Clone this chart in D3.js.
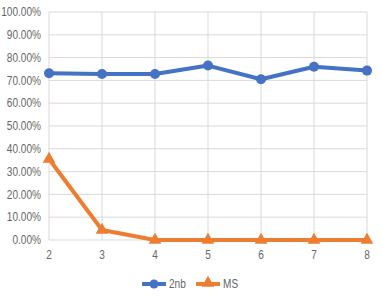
<!DOCTYPE html>
<html><head><meta charset="utf-8">
<script src="https://cdn.jsdelivr.net/npm/d3@7"></script>
<style>
body{margin:0;background:#fff;}
text{font-family:"Liberation Sans",Arial,sans-serif;fill:#666;}
</style></head>
<body><svg id="c" width="382" height="300"></svg>
<script>
const categories = [2,3,4,5,6,7,8];
const series2nb = [0.731,0.728,0.728,0.765,0.705,0.760,0.743];
const seriesMS = [0.355,0.044,0,0,0,0,0];
const yTicks = [0,0.1,0.2,0.3,0.4,0.5,0.6,0.7,0.8,0.9,1.0];
const seriesNames = ["2nb","MS"];
const colors = ["#4472C4","#ED7D31"];

const svg = d3.select("#c");
const pL=49, pR=367, pT=12, pB=240;
const sx=0.84;
const x = d3.scalePoint().domain(categories).range([pL,pR]);
const y = d3.scaleLinear().domain([0,1]).range([pB,pT]);

svg.append("g").selectAll("line").data(yTicks).join("line")
  .attr("x1",pL).attr("x2",pR).attr("y1",d=>y(d)).attr("y2",d=>y(d))
  .attr("stroke","#d9d9d9").attr("stroke-width",1);
svg.append("g").selectAll("line").data(categories).join("line")
  .attr("x1",d=>x(d)).attr("x2",d=>x(d)).attr("y1",pT).attr("y2",pB)
  .attr("stroke","#d9d9d9").attr("stroke-width",1);

svg.append("g").selectAll("text").data(yTicks).join("text")
  .attr("transform",d=>`translate(41,${y(d)}) scale(${sx},1)`).attr("dy","0.35em")
  .attr("text-anchor","end").attr("font-size",12)
  .text(d=>d3.format(".2%")(d));
svg.append("g").selectAll("text").data(categories).join("text")
  .attr("transform",d=>`translate(${x(d)},259) scale(${sx},1)`).attr("text-anchor","middle").attr("font-size",12)
  .text(d=>d);

const line = d3.line().x((d,i)=>x(categories[i])).y(d=>y(d));
const data=[series2nb,seriesMS];
data.forEach((s,k)=>{
  svg.append("path").datum(s).attr("d",line).attr("fill","none")
    .attr("stroke",colors[k]).attr("stroke-width",4).attr("stroke-linejoin","round");
});
svg.append("g").selectAll("circle").data(series2nb).join("circle")
  .attr("cx",(d,i)=>x(categories[i])).attr("cy",d=>y(d)).attr("r",5).attr("fill",colors[0]);
const tri = d3.symbol().type(d3.symbolTriangle).size(70);
svg.append("g").selectAll("path").data(seriesMS).join("path")
  .attr("d",tri).attr("transform",(d,i)=>`translate(${x(categories[i])},${y(d)})`).attr("fill",colors[1]);

const lg = svg.append("g");
const lx=[142,196];
seriesNames.forEach((n,k)=>{
  lg.append("line").attr("x1",lx[k]).attr("x2",lx[k]+24).attr("y1",284).attr("y2",284)
    .attr("stroke",colors[k]).attr("stroke-width",4);
  if(k===0) lg.append("circle").attr("cx",lx[k]+12).attr("cy",284).attr("r",4.5).attr("fill",colors[k]);
  else lg.append("path").attr("d",tri).attr("transform",`translate(${lx[k]+12},283)`).attr("fill",colors[k]);
  lg.append("text").attr("transform",`translate(${lx[k]+27},284) scale(${sx},1)`).attr("dy","0.35em").attr("font-size",12).text(n);
});
</script></body></html>
